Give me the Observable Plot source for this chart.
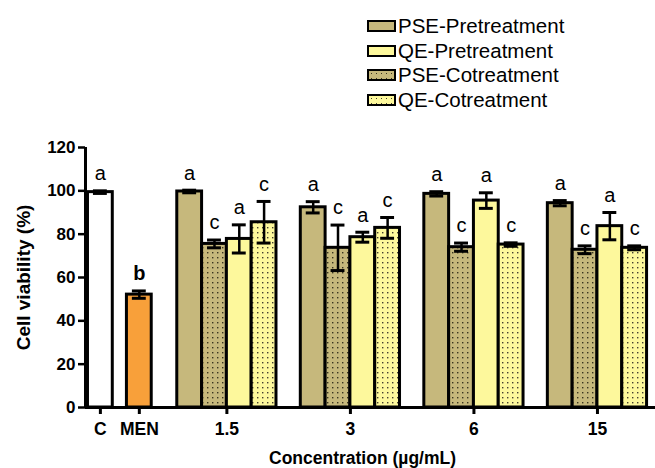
<!DOCTYPE html>
<html>
<head>
<meta charset="utf-8">
<script src="https://cdn.jsdelivr.net/npm/d3@7"></script>
<script src="https://cdn.jsdelivr.net/npm/@observablehq/plot@0.6"></script>
<style>
  body { margin: 0; background: #fff; font-family: "Liberation Sans", Arial, sans-serif; }
  #wrap { position: relative; width: 655px; height: 468px; }
  #legend { position: absolute; left: 367px; top: 14px; font-size: 20.5px; color: #000; }
  .row { display: flex; align-items: center; height: 24.5px; }
  .sw { width: 25px; height: 8px; border: 2.5px solid #000; margin-right: 2px; box-sizing: content-box; }
</style>
</head>
<body>
<div id="wrap"><div id="legend"></div></div>
<script>
// ---- data ----
const controlLabels = ["C", "MEN"];
const controlMeans = [99.4, 52.1];
const controlErr = [0.6, 1.7];
const controlLetters = ["a", "b"];

const groups = ["1.5", "3", "6", "15"];
const series = ["PSE-Pretreatment", "PSE-Cotreatment", "QE-Pretreatment", "QE-Cotreatment"];
const legendOrder = ["PSE-Pretreatment", "QE-Pretreatment", "PSE-Cotreatment", "QE-Cotreatment"];

const psePreMean = [99.7, 92.4, 98.6, 94.3];
const psePreErr = [0.6, 2.6, 1.0, 1.2];
const psePreLetters = ["a", "a", "a", "a"];
const pseCoMean = [75.5, 73.7, 74.0, 72.8];
const pseCoErr = [1.8, 10.5, 1.9, 1.8];
const pseCoLetters = ["c", "c", "c", "c"];
const qePreMean = [77.8, 78.6, 95.5, 83.7];
const qePreErr = [6.5, 2.3, 3.6, 6.3];
const qePreLetters = ["a", "a", "a", "a"];
const qeCoMean = [85.5, 82.9, 75.2, 73.7];
const qeCoErr = [9.6, 4.8, 0.8, 0.9];
const qeCoLetters = ["c", "c", "c", "c"];

const yTicks = [0, 20, 40, 60, 80, 100, 120];

// ---- styles ----
const KHAKI = "#c6b87c", YELLOW = "#fdf89c", ORANGE = "#f8a03a";
const seriesFill = {
  "PSE-Pretreatment": KHAKI,
  "PSE-Cotreatment": "url(#dotsPSE)",
  "QE-Pretreatment": YELLOW,
  "QE-Cotreatment": "url(#dotsQE)"
};
const controlFill = { C: "#ffffff", MEN: ORANGE };

// ---- layout positions (slot units) ----
const controlPos = { C: 0, MEN: 1.57 };
const groupPos = i => 5.1 + 4.98 * i;
const offsets = [-1.5, -0.5, 0.5, 1.5];

const means = [psePreMean, pseCoMean, qePreMean, qeCoMean];
const errs = [psePreErr, pseCoErr, qePreErr, qeCoErr];
const letters = [psePreLetters, pseCoLetters, qePreLetters, qeCoLetters];

const bars = [];
controlLabels.forEach((c, i) => bars.push({
  key: c, x: controlPos[c], mean: controlMeans[i], err: controlErr[i], letter: controlLetters[i], fill: controlFill[c], bold: c === "MEN"
}));
groups.forEach((g, gi) => series.forEach((s, si) => bars.push({
  key: g + "|" + s, x: groupPos(gi) + offsets[si], mean: means[si][gi], err: errs[si][gi], letter: letters[si][gi], fill: seriesFill[s], bold: false
})));

const tickPositions = [controlPos.C, controlPos.MEN, ...groups.map((g, i) => groupPos(i))];
const tickLabels = new Map(tickPositions.map((p, i) => [p, [...controlLabels, ...groups][i]]));

const xDomain = [-0.6, 22.38];
const half = 0.5, cap = 0.28;

const plot = Plot.plot({
  width: 655, height: 468,
  marginLeft: 85, marginRight: 0, marginTop: 147, marginBottom: 61,
  style: { fontFamily: "Liberation Sans, Arial, sans-serif", background: "transparent" },
  x: { type: "linear", domain: xDomain },
  y: { domain: [0, 120] },
  color: { type: "identity" },
  marks: [
    Plot.rectY(bars, { x1: d => d.x - half, x2: d => d.x + half, y1: 0, y2: "mean", fill: "fill", stroke: "#000", strokeWidth: 3 }),
    Plot.ruleX(bars, { x: "x", y1: d => d.mean - d.err, y2: d => d.mean + d.err, stroke: "#000", strokeWidth: 2.5 }),
    Plot.ruleY(bars, { y: d => d.mean + d.err, x1: d => d.x - cap, x2: d => d.x + cap, stroke: "#000", strokeWidth: 3 }),
    Plot.ruleY(bars, { y: d => d.mean - d.err, x1: d => d.x - cap, x2: d => d.x + cap, stroke: "#000", strokeWidth: 3 }),
    Plot.text(bars.filter(d => !d.bold), { x: "x", y: d => d.mean + d.err, text: "letter", dy: -17, fontSize: 20, fill: "#000" }),
    Plot.text(bars.filter(d => d.bold), { x: "x", y: d => d.mean + d.err, text: "letter", dy: -17, fontSize: 20, fontWeight: "bold", fill: "#000" }),
    Plot.ruleY([0], { stroke: "#000", strokeWidth: 3 }),
    Plot.ruleX([xDomain[0]], { y1: 0, y2: 120, stroke: "#000", strokeWidth: 3 }),
    Plot.axisY({ ticks: yTicks, tickSize: 7, tickPadding: 3, strokeWidth: 2.5, fontSize: 17, fontWeight: "bold", label: null }),
    Plot.axisX({ ticks: tickPositions, tickFormat: p => tickLabels.get(p), tickSize: 7, tickPadding: 8, strokeWidth: 3, fontSize: 17.5, fontWeight: "bold", label: null }),
    Plot.text(["Cell viability (%)"], { frameAnchor: "left", textAnchor: "middle", dx: -62, rotate: -90, fontSize: 19, fontWeight: "bold", fill: "#000" }),
    Plot.text(["Concentration (µg/mL)"], { frameAnchor: "bottom", dx: -8, dy: 56, fontSize: 17.5, fontWeight: "bold", fill: "#000" })
  ]
});

// patterns for cotreatment bars
const defs = d3.select(plot).insert("defs", ":first-child");
function dots(id, base, dot) {
  const p = defs.append("pattern").attr("id", id).attr("patternUnits", "userSpaceOnUse").attr("width", 5).attr("height", 5);
  p.append("rect").attr("width", 5).attr("height", 5).attr("fill", base);
  p.append("rect").attr("x", 2).attr("y", 2).attr("width", 1.4).attr("height", 1.4).attr("fill", dot);
}
dots("dotsPSE", KHAKI, "#3a3520");
dots("dotsQE", YELLOW, "#444030");

document.getElementById("wrap").prepend(plot);
plot.style.position = "absolute"; plot.style.left = "0"; plot.style.top = "0";

// legend
const legend = d3.select("#legend");
const swatchBg = {
  "PSE-Pretreatment": KHAKI,
  "QE-Pretreatment": YELLOW,
  "PSE-Cotreatment": `radial-gradient(circle, #3a3520 0.8px, transparent 1px) 0 0/5px 5px, ${KHAKI}`,
  "QE-Cotreatment": `radial-gradient(circle, #444030 0.8px, transparent 1px) 0 0/5px 5px, ${YELLOW}`
};
legendOrder.forEach(s => {
  const row = legend.append("div").attr("class", "row");
  row.append("div").attr("class", "sw").style("background", swatchBg[s]);
  row.append("span").text(s);
});
</script>
</body>
</html>
